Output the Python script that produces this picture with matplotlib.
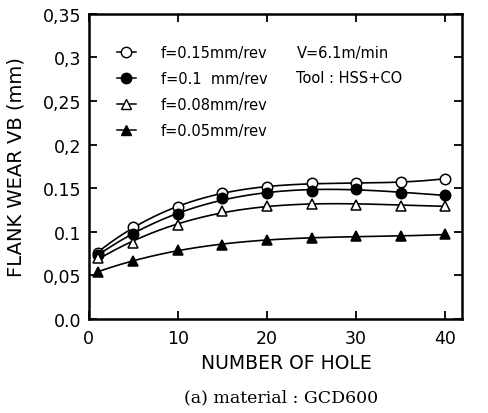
import numpy as np
import matplotlib
matplotlib.use("Agg")
import matplotlib.pyplot as plt
from matplotlib.lines import Line2D

holes = [1, 5, 10, 15, 20, 25, 30, 35, 40]
wear_f015 = [0.076, 0.106, 0.129, 0.144, 0.151, 0.156, 0.156, 0.157, 0.161]
wear_f010 = [0.074, 0.097, 0.120, 0.139, 0.145, 0.147, 0.149, 0.145, 0.142]
wear_f008 = [0.070, 0.087, 0.108, 0.124, 0.130, 0.132, 0.131, 0.130, 0.130]
wear_f005 = [0.054, 0.067, 0.079, 0.085, 0.091, 0.093, 0.095, 0.095, 0.097]
labels = ["f=0.15mm/rev", "f=0.1  mm/rev", "f=0.08mm/rev", "f=0.05mm/rev"]
yticks = [0.0, 0.05, 0.1, 0.15, 0.2, 0.25, 0.3, 0.35]
yticklabels = ["0.0", "0,05", "0.1", "0.15", "0,2", "0,25", "0,3", "0,35"]
xticks = [0, 10, 20, 30, 40]

plt.rcParams['font.family'] = ['DejaVu Sans']

fig = plt.figure(figsize=(4.88, 4.14), dpi=100)
ax = fig.add_axes([0.182, 0.227, 0.765, 0.737])

series = [wear_f015, wear_f010, wear_f008, wear_f005]
styles = [dict(marker='o', mfc='white'), dict(marker='o', mfc='black'),
          dict(marker='^', mfc='white'), dict(marker='^', mfc='black')]
xs = np.linspace(holes[0], holes[-1], 200)
for vals, st in zip(series, styles):
    p = np.polyfit(holes, vals, 3)
    ax.plot(xs, np.polyval(p, xs), color='black', lw=1.2)
    ax.plot(holes, vals, ls='none', marker=st['marker'], mfc=st['mfc'],
            mec='black', mew=1.1, ms=7.5)

handles = [Line2D([], [], color='black', lw=1.1, marker=st['marker'],
                  mfc=st['mfc'], mec='black', ms=7.5) for st in styles]
ax.legend(handles, labels, loc='upper left', bbox_to_anchor=(0.075, 0.897),
          frameon=False, handlelength=1.3, handletextpad=1.7,
          labelspacing=0.75, fontsize=10.5, borderpad=0, borderaxespad=0)

ax.text(23.3, 0.306, "V=6.1m/min", fontsize=10.5, va='center')
ax.text(23.3, 0.277, "Tool : HSS+CO", fontsize=10.5, va='center')

ax.set_xlim(0, 41.9)
ax.set_ylim(0, 0.35)
ax.set_xticks(xticks)
ax.set_yticks(yticks)
ax.set_yticklabels(yticklabels)
ax.tick_params(direction='in', top=True, right=True, length=6, width=1.3,
               labelsize=12.5, pad=5)
ax.tick_params(axis='x', pad=7)
for s in ax.spines.values():
    s.set_linewidth(1.8)

ax.set_xlabel("NUMBER OF HOLE", fontsize=13.5)
ax.xaxis.set_label_coords(0.528, -0.11)
ax.set_ylabel("FLANK WEAR VB (mm)", fontsize=14)
ax.yaxis.set_label_coords(-0.17, 0.5)
fig.text(0.575, 0.028, "(a) material : GCD600", fontsize=12.5,
         family=['DejaVu Serif'], ha='center')

fig.savefig("out.png", dpi=100)
